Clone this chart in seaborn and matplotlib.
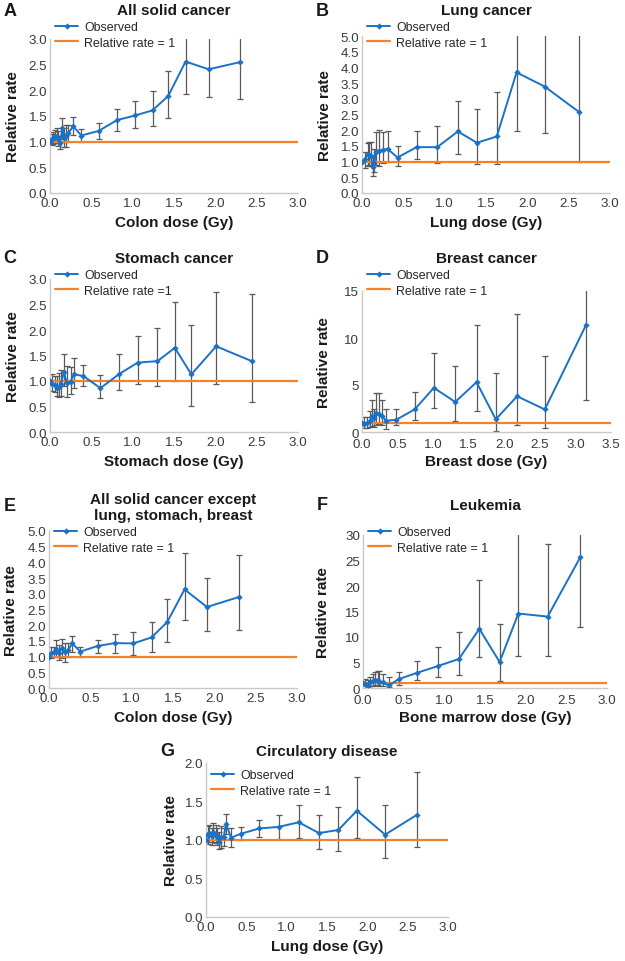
"""
Relative rate vs organ dose, seven panels (A-G)
Observed relative rates with CIs and the reference line RR = 1
"""

import pandas as pd
import matplotlib
matplotlib.use('Agg')
import matplotlib.pyplot as plt
import seaborn as sns
import numpy as np

# ---- data ----
# A: all solid cancer
a_dose = [0.0, 0.02, 0.04, 0.06, 0.08, 0.10, 0.12, 0.15, 0.17, 0.19, 0.22, 0.28, 0.38, 0.59, 0.81, 1.03, 1.24, 1.43, 1.64, 1.92, 2.30]
a_rr = [1.00, 1.06, 1.08, 1.10, 1.12, 1.05, 0.97, 1.26, 1.08, 1.12, 1.16, 1.30, 1.12, 1.21, 1.42, 1.51, 1.61, 1.89, 2.56, 2.41, 2.55]
a_lo = [1.00, 0.93, 0.95, 0.97, 0.98, 0.92, 0.85, 1.06, 0.90, 0.90, 1.00, 1.13, 1.00, 1.06, 1.21, 1.26, 1.30, 1.47, 1.93, 1.87, 1.84]
a_hi = [1.00, 1.15, 1.18, 1.22, 1.27, 1.20, 1.10, 1.47, 1.27, 1.33, 1.33, 1.49, 1.25, 1.37, 1.64, 1.80, 1.98, 2.38, 3.60, 3.30, 3.50]

# B: lung cancer
b_dose = [0.0, 0.04, 0.07, 0.09, 0.11, 0.13, 0.15, 0.17, 0.21, 0.25, 0.31, 0.43, 0.66, 0.91, 1.16, 1.39, 1.63, 1.87, 2.21, 2.62]
b_rr = [1.00, 1.08, 1.24, 1.20, 1.17, 0.82, 0.96, 1.32, 1.35, 1.38, 1.40, 1.13, 1.46, 1.46, 1.96, 1.60, 1.80, 3.84, 3.39, 2.59]
b_lo = [1.00, 0.80, 0.85, 0.90, 0.85, 0.55, 0.68, 0.90, 0.85, 0.95, 0.98, 0.85, 1.07, 0.97, 1.25, 0.91, 0.91, 1.97, 1.90, 1.00]
b_hi = [1.00, 1.30, 1.60, 1.62, 1.62, 1.20, 1.40, 1.95, 2.00, 1.95, 1.99, 1.50, 1.97, 2.13, 2.92, 2.66, 3.22, 7.50, 6.00, 6.50]

# C: stomach cancer
c_dose = [0.0, 0.03, 0.06, 0.08, 0.11, 0.13, 0.17, 0.20, 0.25, 0.29, 0.40, 0.61, 0.84, 1.06, 1.30, 1.51, 1.71, 2.01, 2.44]
c_rr = [1.00, 0.95, 0.92, 0.87, 0.88, 0.94, 1.18, 0.97, 0.99, 1.13, 1.10, 0.86, 1.14, 1.36, 1.39, 1.65, 1.13, 1.68, 1.39]
c_lo = [1.00, 0.80, 0.78, 0.70, 0.68, 0.70, 0.90, 0.68, 0.75, 0.86, 0.90, 0.66, 0.83, 0.95, 0.91, 1.00, 0.51, 0.94, 0.59]
c_hi = [1.00, 1.14, 1.10, 1.10, 1.15, 1.22, 1.53, 1.30, 1.28, 1.45, 1.32, 1.11, 1.52, 1.89, 2.03, 2.54, 2.09, 2.75, 2.70]

# D: breast cancer
d_dose = [0.0, 0.03, 0.07, 0.11, 0.14, 0.17, 0.20, 0.24, 0.28, 0.34, 0.48, 0.74, 1.01, 1.31, 1.61, 1.88, 2.18, 2.57, 3.15]
d_rr = [1.0, 0.8, 1.0, 1.2, 1.7, 1.5, 2.0, 1.9, 1.7, 1.2, 1.3, 2.4, 4.7, 3.2, 5.3, 1.35, 3.8, 2.4, 11.4]
d_lo = [1.0, 0.4, 0.4, 0.5, 0.6, 0.5, 0.7, 0.8, 0.7, 0.3, 0.7, 1.3, 2.6, 1.2, 2.2, 0.1, 0.7, 0.4, 3.4]
d_hi = [1.0, 1.6, 1.6, 2.2, 3.4, 2.4, 4.1, 4.1, 3.4, 2.5, 2.5, 4.3, 8.4, 7.0, 11.4, 6.3, 12.6, 8.1, 22.0]

# E: all solid cancer except lung, stomach, breast
e_dose = [0.0, 0.03, 0.06, 0.09, 0.12, 0.16, 0.19, 0.23, 0.28, 0.38, 0.59, 0.80, 1.02, 1.24, 1.43, 1.64, 1.91, 2.30]
e_rr = [1.00, 1.10, 1.15, 1.25, 1.12, 1.27, 1.15, 1.20, 1.42, 1.16, 1.34, 1.43, 1.42, 1.61, 2.10, 3.14, 2.58, 2.90]
e_lo = [1.00, 0.95, 0.98, 1.00, 0.88, 0.95, 0.82, 1.00, 1.15, 0.98, 1.10, 1.13, 1.06, 1.16, 1.48, 2.15, 1.80, 1.85]
e_hi = [1.00, 1.30, 1.30, 1.52, 1.38, 1.55, 1.42, 1.43, 1.66, 1.30, 1.52, 1.72, 1.79, 2.09, 2.82, 4.30, 3.50, 4.22]

# F: leukemia
f_dose = [0.0, 0.03, 0.06, 0.09, 0.12, 0.15, 0.18, 0.20, 0.24, 0.32, 0.44, 0.67, 0.92, 1.18, 1.43, 1.68, 1.91, 2.27, 2.67]
f_rr = [1.0, 0.85, 0.65, 1.2, 1.45, 1.6, 1.5, 1.2, 1.1, 0.5, 1.75, 3.0, 4.3, 5.7, 11.6, 5.1, 14.6, 14.0, 25.6]
f_lo = [1.0, 0.3, 0.2, 0.3, 0.4, 0.5, 0.5, 0.3, 0.3, 0.1, 0.6, 1.6, 2.2, 2.6, 6.1, 1.4, 6.3, 6.3, 11.9]
f_hi = [1.0, 1.8, 1.5, 2.2, 2.8, 3.2, 3.3, 3.4, 2.8, 2.1, 3.1, 5.3, 8.0, 11.0, 21.1, 12.5, 35.0, 28.3, 50.0]

# G: circulatory disease
g_dose = [0.0, 0.02, 0.04, 0.07, 0.09, 0.12, 0.14, 0.16, 0.19, 0.22, 0.25, 0.31, 0.43, 0.66, 0.90, 1.15, 1.40, 1.64, 1.87, 2.22, 2.62]
g_rr = [1.00, 1.08, 1.09, 1.05, 1.11, 1.08, 1.04, 0.98, 1.04, 1.04, 1.21, 1.03, 1.08, 1.15, 1.17, 1.23, 1.09, 1.13, 1.38, 1.07, 1.33]
g_lo = [1.00, 0.95, 0.97, 0.94, 0.98, 0.96, 0.93, 0.88, 0.90, 0.92, 1.08, 0.91, 1.00, 1.04, 1.01, 1.03, 0.88, 0.86, 1.02, 0.76, 0.91]
g_hi = [1.00, 1.18, 1.20, 1.16, 1.22, 1.20, 1.15, 1.10, 1.18, 1.16, 1.34, 1.16, 1.17, 1.26, 1.33, 1.45, 1.33, 1.43, 1.82, 1.45, 1.88]

letters = ['A', 'B', 'C', 'D', 'E', 'F', 'G']
titles = ['All solid cancer', 'Lung cancer', 'Stomach cancer', 'Breast cancer',
          'All solid cancer except\nlung, stomach, breast', 'Leukemia', 'Circulatory disease']
xlabels = ['Colon dose (Gy)', 'Lung dose (Gy)', 'Stomach dose (Gy)', 'Breast dose (Gy)',
           'Colon dose (Gy)', 'Bone marrow dose (Gy)', 'Lung dose (Gy)']
ref_labels = ['Relative rate = 1', 'Relative rate = 1', 'Relative rate =1', 'Relative rate = 1',
              'Relative rate = 1', 'Relative rate = 1', 'Relative rate = 1']
xmax = [3.0, 3.0, 3.0, 3.5, 3.0, 3.0, 3.0]
ymax = [3.0, 5.0, 3.0, 15, 5.0, 30, 2.0]
ystep = [0.5, 0.5, 0.5, 5, 0.5, 5, 0.5]

series = [(a_dose, a_rr, a_lo, a_hi), (b_dose, b_rr, b_lo, b_hi), (c_dose, c_rr, c_lo, c_hi),
          (d_dose, d_rr, d_lo, d_hi), (e_dose, e_rr, e_lo, e_hi), (f_dose, f_rr, f_lo, f_hi),
          (g_dose, g_rr, g_lo, g_hi)]

# ---- layout (pixel boxes: left, top, right, bottom) ----
W, H = 625, 962
boxes = [(50, 40, 298, 194), (362, 37, 610, 194),
         (50, 280, 298, 433), (362, 292, 611, 433),
         (49, 532, 297, 689), (363, 536, 607, 689),
         (206, 764, 448, 918)]
ylab_off = [30, 30, 30, 31, 31, 33, 28]
xtick_pad = [3, 3, 3, 4.5, 3, 4.5, 3]
xlab_pad = [4, 4, 4, 2.5, 4, 2.5, 4]
title_y = [11, 11, 259, 259, 508, 506, 752]
letter_pos = [(10, 12), (322, 12), (10, 259), (322, 259), (10, 507), (322, 506), (167, 752)]
legend_top = [22, 22, 270, 270, 527, 527, 770]

BLUE = '#1a72c8'
ORANGE = '#f5822a'
GREY_TXT = '#3a3a3a'

sns.set_theme(style='white')
plt.rcParams['font.family'] = ['Liberation Sans', 'DejaVu Sans']

fig = plt.figure(figsize=(W / 100, H / 100), dpi=100)

for i in range(7):
    l, t, r, b = boxes[i]
    w_px, h_px = r - l, b - t
    ax = fig.add_axes([l / W, 1 - b / H, w_px / W, h_px / H])

    dose, rr, lo, hi = [np.array(v, dtype=float) for v in series[i]]
    df = pd.DataFrame({'dose': dose, 'rr': rr})

    # confidence intervals
    ax.errorbar(dose, rr, yerr=[rr - lo, hi - rr], fmt='none', ecolor='#595959',
                elinewidth=0.9, capsize=2.2, capthick=0.9, zorder=1)

    ax.axhline(1.0, color=ORANGE, lw=1.6, zorder=2, label=ref_labels[i])
    sns.lineplot(data=df, x='dose', y='rr', ax=ax, color=BLUE, lw=1.4,
                 marker='D', markersize=3.2, markeredgewidth=0, sort=False,
                 estimator=None, zorder=3, label='Observed')

    ax.set_xlim(0, xmax[i])
    ax.set_ylim(0, ymax[i])
    ax.set_xticks(np.arange(0, xmax[i] + 0.01, 0.5))
    ax.set_yticks(np.arange(0, ymax[i] + 0.001, ystep[i]))
    ax.xaxis.set_major_formatter(plt.FormatStrFormatter('%.1f'))
    if ystep[i] < 1:
        ax.yaxis.set_major_formatter(plt.FormatStrFormatter('%.1f'))
    else:
        ax.yaxis.set_major_formatter(plt.FormatStrFormatter('%d'))
    ax.tick_params(length=0, labelsize=9.6, labelcolor=GREY_TXT)
    ax.tick_params(axis='x', pad=xtick_pad[i])
    ax.tick_params(axis='y', pad=2)

    for s in ['top', 'right']:
        ax.spines[s].set_visible(False)
    for s in ['left', 'bottom']:
        ax.spines[s].set_color('#c8c8c8')
        ax.spines[s].set_linewidth(1.0)

    ax.set_xlabel(xlabels[i], fontsize=11, fontweight='bold', color='#1a1a1a', labelpad=xlab_pad[i])
    ax.set_ylabel('Relative rate', fontsize=11, fontweight='bold', color='#1a1a1a')
    ax.yaxis.set_label_coords(-ylab_off[i] / w_px, 0.5)

    # legend: Observed first, reference line second
    handles, labels = ax.get_legend_handles_labels()
    order = [labels.index('Observed'), labels.index(ref_labels[i])]
    anchor_y = 1 + (t - legend_top[i]) / h_px
    ax.legend([handles[k] for k in order], [labels[k] for k in order],
              loc='upper left', bbox_to_anchor=(5 / w_px, anchor_y), frameon=False,
              fontsize=8.9, handlelength=1.9, handletextpad=0.45, labelspacing=0.3,
              borderpad=0, borderaxespad=0)

    # title and panel letter
    fig.text((l + r) / 2 / W, 1 - title_y[i] / H, titles[i], ha='center', va='center',
             fontsize=11, fontweight='bold', color='#1a1a1a', linespacing=1.15)
    lx, ly = letter_pos[i]
    fig.text(lx / W, 1 - ly / H, letters[i], ha='center', va='center',
             fontsize=13, fontweight='bold', color='#1a1a1a')

fig.savefig('out.png', dpi=100)
